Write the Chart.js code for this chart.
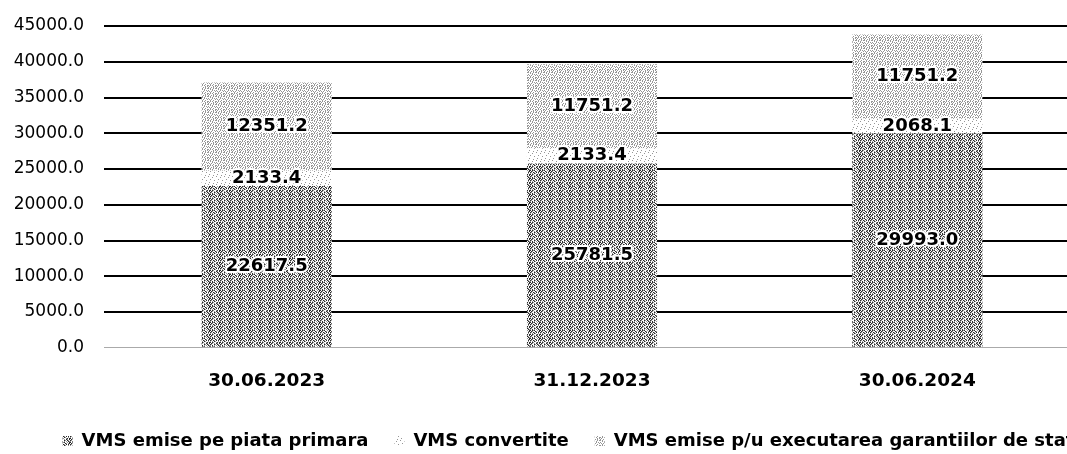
<!DOCTYPE html>
<html>
<head>
<meta charset="utf-8">
<script src="https://cdn.jsdelivr.net/npm/chart.js@4/dist/chart.umd.min.js"></script>
<style>
html, body { margin: 0; padding: 0; background: #fff; overflow: hidden; }
#wrap { position: relative; width: 1137px; height: 460px; }
</style>
</head>
<body>
<div id="wrap"><canvas id="chart"></canvas></div>
<script>
const categories = ["30.06.2023", "31.12.2023", "30.06.2024"];
const primara = [22617.5, 25781.5, 29993.0];
const convertite = [2133.4, 2133.4, 2068.1];
const garantii = [12351.2, 11751.2, 11751.2];
const seriesNames = ["VMS emise pe piata primara", "VMS convertite", "VMS emise p/u executarea garantiilor de stat"];

// dithered fills, like a scanned print
function makePattern(rows) {
    const c = document.createElement('canvas');
    c.width = rows[0].length; c.height = rows.length;
    const g = c.getContext('2d');
    rows.forEach((r, y) => {
        for (let x = 0; x < r.length; x++) {
            g.fillStyle = r[x] === '#' ? '#2a2a2a' : (r[x] === '+' ? '#969696' : '#fff');
            g.fillRect(x, y, 1, 1);
        }
    });
    return g.createPattern(c, 'repeat');
}
const ctx = document.getElementById('chart').getContext('2d');
const darkFill = makePattern([
    "#+..#+.#+.",
    "+.#.+.+.#+",
    "#.#+#..+.#",
    ".#+..#+.+#",
    "#+.#+.#.#.",
    "+.+.#+..+.",
    "#.#+..+#.#",
    ".#+.+.#+.#"
]);
const lightFill = makePattern([
    "+.+..+.+",
    "..+.+...",
    "+...+.+.",
    ".+.+...+",
    "..+..+..",
    "+.+.+..+",
    ".+...+.+",
    "+..+.+.."
]);
const paleFill = makePattern([
    "+.......",
    "....+...",
    "........",
    "..+.....",
    "......+.",
    "........",
    ".+......",
    ".....+.."
]);

const labelPlugin = {
    id: 'segLabels',
    afterDatasetsDraw(chart) {
        const c = chart.ctx;
        c.save();
        c.font = 'bold 18px "DejaVu Sans"';
        c.textAlign = 'center';
        c.textBaseline = 'middle';
        c.lineJoin = 'round';
        chart.data.datasets.forEach((ds, i) => {
            chart.getDatasetMeta(i).data.forEach((bar, j) => {
                const y = (bar.y + bar.base) / 2;
                const txt = ds.data[j].toFixed(1);
                c.lineWidth = 4;
                c.strokeStyle = '#fff';
                c.strokeText(txt, bar.x, y);
                c.fillStyle = '#000';
                c.fillText(txt, bar.x, y);
            });
        });
        c.restore();
    }
};

new Chart(ctx, {
    type: 'bar',
    data: {
        labels: categories,
        datasets: [
            { label: seriesNames[0], data: primara, backgroundColor: darkFill },
            { label: seriesNames[1], data: convertite, backgroundColor: paleFill },
            { label: seriesNames[2], data: garantii, backgroundColor: lightFill }
        ]
    },
    options: {
        responsive: true,
        maintainAspectRatio: false,
        animation: false,
        layout: { padding: 0 },
        datasets: { bar: { barPercentage: 0.4, categoryPercentage: 1.0 } },
        plugins: {
            legend: {
                position: 'bottom',
                labels: {
                    font: { family: 'DejaVu Sans', size: 18, weight: 'bold' },
                    color: '#000',
                    boxWidth: 10, boxHeight: 10,
                    padding: 26
                }
            },
            tooltip: { enabled: false }
        },
        scales: {
            x: {
                stacked: true,
                grid: { display: false },
                border: { display: true, color: '#aaa', dash: [2, 2] },
                ticks: { font: { family: 'DejaVu Sans', size: 18.5, weight: 'bold' }, color: '#000', padding: 14 }
            },
            y: {
                stacked: true,
                min: 0, max: 45000,
                afterFit: s => { s.width = 104; s.paddingTop = 26; s.paddingBottom = 0; },
                grid: {
                    color: ctx => ctx.tick.value === 0 ? 'rgba(0,0,0,0)' : '#000',
                    lineWidth: 2,
                    drawTicks: false
                },
                border: { display: false },
                ticks: {
                    stepSize: 5000,
                    padding: 20,
                    font: { family: 'DejaVu Sans', size: 17 },
                    color: '#000',
                    callback: v => v.toFixed(1)
                }
            },
            // empty right-hand axis: keeps the plot edge near the window edge
            yRight: {
                position: 'right',
                afterFit: s => { s.width = 57; s.paddingTop = 0; s.paddingBottom = 0; },
                grid: { display: false },
                border: { display: false },
                ticks: { display: false }
            }
        }
    },
    plugins: [labelPlugin]
});
</script>
</body>
</html>
